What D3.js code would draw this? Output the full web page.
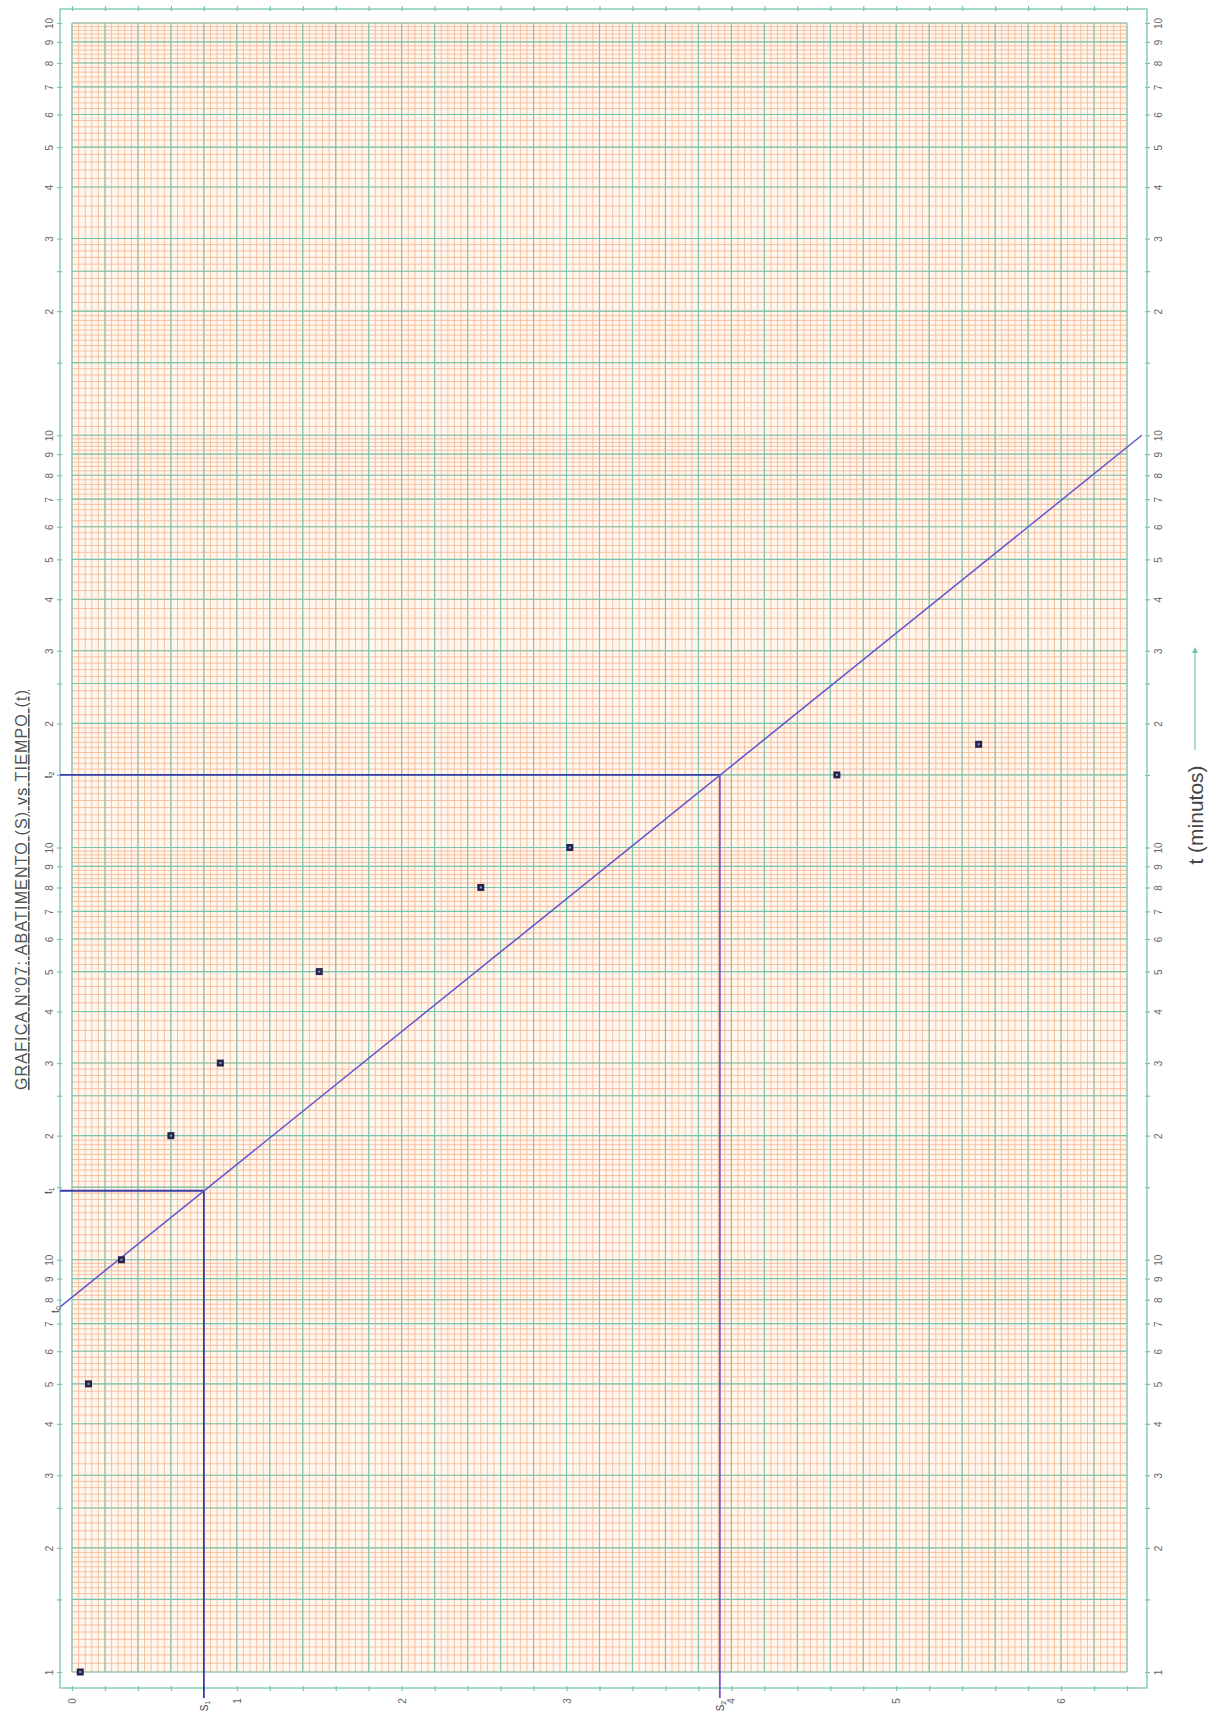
<!DOCTYPE html>
<html>
<head>
<meta charset="utf-8">
<script src="https://cdn.jsdelivr.net/npm/d3@7/dist/d3.min.js"></script>
<style>
  html, body { margin: 0; padding: 0; background: #ffffff; }
  svg { display: block; }
  text { font-family: "Liberation Sans", Arial, sans-serif; }
</style>
</head>
<body>
<svg id="chart" width="1216" height="1712"></svg>
<script>
// ---------- data ----------
const timeMinutes   = [1, 5, 10, 20, 30, 50, 80, 100, 150, 178];          // t (minutos)
const drawdownS     = [0.05, 0.10, 0.30, 0.60, 0.90, 1.50, 2.48, 3.02, 4.64, 5.50]; // S
const sTickLabels   = [0, 1, 2, 3, 4, 5, 6];
const cycleStarts   = [1, 10, 100, 1000];
const cycleMarks    = [1.5, 2, 2.5, 3, 4, 5, 6, 7, 8, 9, 10];
const fitLineS      = [-0.07, 6.49];
const fitLineT      = [7.7, 1000];
const guideNames    = ["1", "2"];
const guideS        = [0.80, 3.93];
const guideT        = [14.7, 150];
const titleText     = "GRAFICA N°07: ABATIMENTO (S) vs TIEMPO (t)";
const axisTitleText = "t (minutos)";

// ---------- scales ----------
const svg = d3.select("#chart");
const x = d3.scaleLinear().domain([0, 6.4]).range([72, 1127]);
const y = d3.scaleLog().domain([1, 10000]).range([1672, 23]);

const frame = { left: 60, right: 1147, top: 9, bottom: 1688 };
const green = "#76c6ae";
const orange = "#f6b08b";

// ---------- grid ----------
function fineSteps(d) {
  const v = [];
  for (let m = 1; m < 2 - 1e-9; m += 0.05) v.push(+(m * d).toFixed(6));
  for (let m = 2; m < 3 - 1e-9; m += 0.1) v.push(+(m * d).toFixed(6));
  for (let m = 3; m < 10 - 1e-9; m += 0.2) v.push(+(m * d).toFixed(6));
  return v;
}
let minorT = [];
cycleStarts.forEach(d => { minorT = minorT.concat(fineSteps(d)); });
minorT.push(10000);

const majorT = [1];
cycleStarts.forEach(d => {
  cycleMarks.forEach(m => majorT.push(+(m * d).toFixed(6)));
});

const minorS = d3.range(0, 161).map(i => +(i * 0.04).toFixed(4));
const majorS = d3.range(0, 33).map(i => +(i * 0.2).toFixed(4));

const grid = svg.append("g");
grid.append("rect")
  .attr("x", x(0)).attr("y", y(10000))
  .attr("width", x(6.4) - x(0)).attr("height", y(1) - y(10000))
  .attr("fill", "#fff6ee");
grid.selectAll("line.mh").data(minorT).join("line")
  .attr("x1", x(0)).attr("x2", x(6.4))
  .attr("y1", d => y(d)).attr("y2", d => y(d))
  .attr("stroke", orange).attr("stroke-width", 1).attr("opacity", 0.75);
grid.selectAll("line.mv").data(minorS).join("line")
  .attr("y1", y(1)).attr("y2", y(10000))
  .attr("x1", d => x(d)).attr("x2", d => x(d))
  .attr("stroke", orange).attr("stroke-width", 1).attr("opacity", 0.75);
grid.selectAll("line.Mh").data(majorT).join("line")
  .attr("x1", x(0)).attr("x2", x(6.4))
  .attr("y1", d => y(d)).attr("y2", d => y(d))
  .attr("stroke", green).attr("stroke-width", 1.1);
grid.selectAll("line.Mv").data(majorS).join("line")
  .attr("y1", y(1)).attr("y2", y(10000))
  .attr("x1", d => x(d)).attr("x2", d => x(d))
  .attr("stroke", green).attr("stroke-width", 1.1);

// ---------- frame ----------
svg.append("rect")
  .attr("x", frame.left).attr("y", frame.top)
  .attr("width", frame.right - frame.left).attr("height", frame.bottom - frame.top)
  .attr("fill", "none").attr("stroke", green).attr("stroke-width", 1.3);

// ---------- axes ----------
function logLabel(v) {
  const e = Math.floor(Math.log10(v) + 1e-9);
  const m = +(v / Math.pow(10, e)).toFixed(4);
  if (v === 1) return "1";
  if (m === 1) return "10";
  if (m === 1.5 || m === 2.5) return "";
  return String(m);
}
function styleAxis(g) {
  g.select(".domain").remove();
  g.selectAll(".tick line").attr("stroke", green).attr("stroke-width", 1.2);
  g.selectAll(".tick text").attr("fill", "#666").attr("font-size", 10);
}

const leftAxis = svg.append("g").attr("transform", `translate(${frame.left + 2},0)`)
  .call(d3.axisLeft(y).tickValues(majorT).tickFormat(logLabel).tickSize(5));
styleAxis(leftAxis);
leftAxis.selectAll(".tick text")
  .attr("x", null).attr("dy", null)
  .attr("text-anchor", "middle").attr("dominant-baseline", "central")
  .attr("transform", "translate(-13,0) rotate(-90)");

const rightAxis = svg.append("g").attr("transform", `translate(${frame.right - 2},0)`)
  .call(d3.axisRight(y).tickValues(majorT).tickFormat(logLabel).tickSize(5));
styleAxis(rightAxis);
rightAxis.selectAll(".tick text")
  .attr("x", null).attr("dy", null)
  .attr("text-anchor", "middle").attr("dominant-baseline", "central")
  .attr("transform", "translate(13,0) rotate(-90)");

const bottomAxis = svg.append("g").attr("transform", `translate(0,${frame.bottom - 2})`)
  .call(d3.axisBottom(x).tickValues(majorS)
    .tickFormat(d => sTickLabels.includes(d) ? String(d) : "").tickSize(5));
styleAxis(bottomAxis);
bottomAxis.selectAll(".tick text")
  .attr("y", null).attr("dy", null)
  .attr("text-anchor", "middle").attr("dominant-baseline", "central")
  .attr("transform", "translate(0,15) rotate(-90)");

const topAxis = svg.append("g").attr("transform", `translate(0,${frame.top + 2})`)
  .call(d3.axisTop(x).tickValues(majorS).tickFormat("").tickSize(5));
styleAxis(topAxis);

// ---------- guide lines (t1/S1, t2/S2) ----------
const hColors = ["#3b3ba8", "#3b3ba8"];
const vColors = ["#3b3ba8", "#8050c8"];
const guides = guideNames.map((n, i) => ({ n, s: guideS[i], t: guideT[i], i }));
const gg = svg.append("g");
gg.selectAll("line.h").data(guides).join("line")
  .attr("x1", frame.left).attr("x2", d => x(d.s))
  .attr("y1", d => y(d.t)).attr("y2", d => y(d.t))
  .attr("stroke", d => hColors[d.i]).attr("stroke-width", 1.8);
gg.selectAll("line.v").data(guides).join("line")
  .attr("x1", d => x(d.s)).attr("x2", d => x(d.s))
  .attr("y1", d => y(d.t)).attr("y2", frame.bottom + 10)
  .attr("stroke", d => vColors[d.i]).attr("stroke-width", 1.8);

function subLabel(g, main, sub, tx, ty) {
  const t = g.append("text")
    .attr("transform", `translate(${tx},${ty}) rotate(-90)`)
    .attr("text-anchor", "middle").attr("dominant-baseline", "central")
    .attr("font-size", 10).attr("fill", "#444");
  t.append("tspan").text(main);
  t.append("tspan").attr("font-size", 7).attr("dy", 3).text(sub);
}
guides.forEach(d => {
  subLabel(gg, "t", d.n, frame.left - 12, y(d.t));
  subLabel(gg, "S", d.n, x(d.s), frame.bottom + 18);
});
subLabel(gg, "t", "0", frame.left - 5, y(fitLineT[0]) + 3);

// ---------- fitted straight line ----------
const fit = fitLineS.map((s, i) => [s, fitLineT[i]]);
svg.append("path")
  .datum(fit)
  .attr("d", d3.line().x(d => x(d[0])).y(d => y(d[1])))
  .attr("fill", "none").attr("stroke", "#6058cc").attr("stroke-width", 1.5);

// ---------- data points ----------
const pts = timeMinutes.map((t, i) => ({ t, s: drawdownS[i] }));
svg.append("g").selectAll("rect").data(pts).join("rect")
  .attr("x", d => x(d.s) - 3.5).attr("y", d => y(d.t) - 3.5)
  .attr("width", 7).attr("height", 7)
  .attr("fill", "#24244e");
svg.append("g").selectAll("rect").data(pts).join("rect")
  .attr("x", d => x(d.s) - 1).attr("y", d => y(d.t) - 1)
  .attr("width", 2).attr("height", 2)
  .attr("fill", "#9a9ac8");

// ---------- titles ----------
svg.append("text")
  .attr("transform", `translate(27,890) rotate(-90)`)
  .attr("text-anchor", "middle")
  .attr("font-size", 16).attr("fill", "#555")
  .attr("text-decoration", "underline")
  .attr("textLength", 400).attr("lengthAdjust", "spacing")
  .text(titleText);

svg.append("text")
  .attr("transform", `translate(1195,815) rotate(-90)`)
  .attr("text-anchor", "middle").attr("dominant-baseline", "central")
  .attr("font-size", 21).attr("fill", "#444")
  .text(axisTitleText);

svg.append("defs").append("marker")
  .attr("id", "arr").attr("viewBox", "0 0 10 10").attr("refX", 5).attr("refY", 5)
  .attr("markerWidth", 5).attr("markerHeight", 5).attr("orient", "auto")
  .append("path").attr("d", "M0,0 L10,5 L0,10 z").attr("fill", green);
svg.append("line")
  .attr("x1", 1195).attr("x2", 1195).attr("y1", 750).attr("y2", 650)
  .attr("stroke", green).attr("stroke-width", 1.2)
  .attr("marker-end", "url(#arr)");
</script>
</body>
</html>
